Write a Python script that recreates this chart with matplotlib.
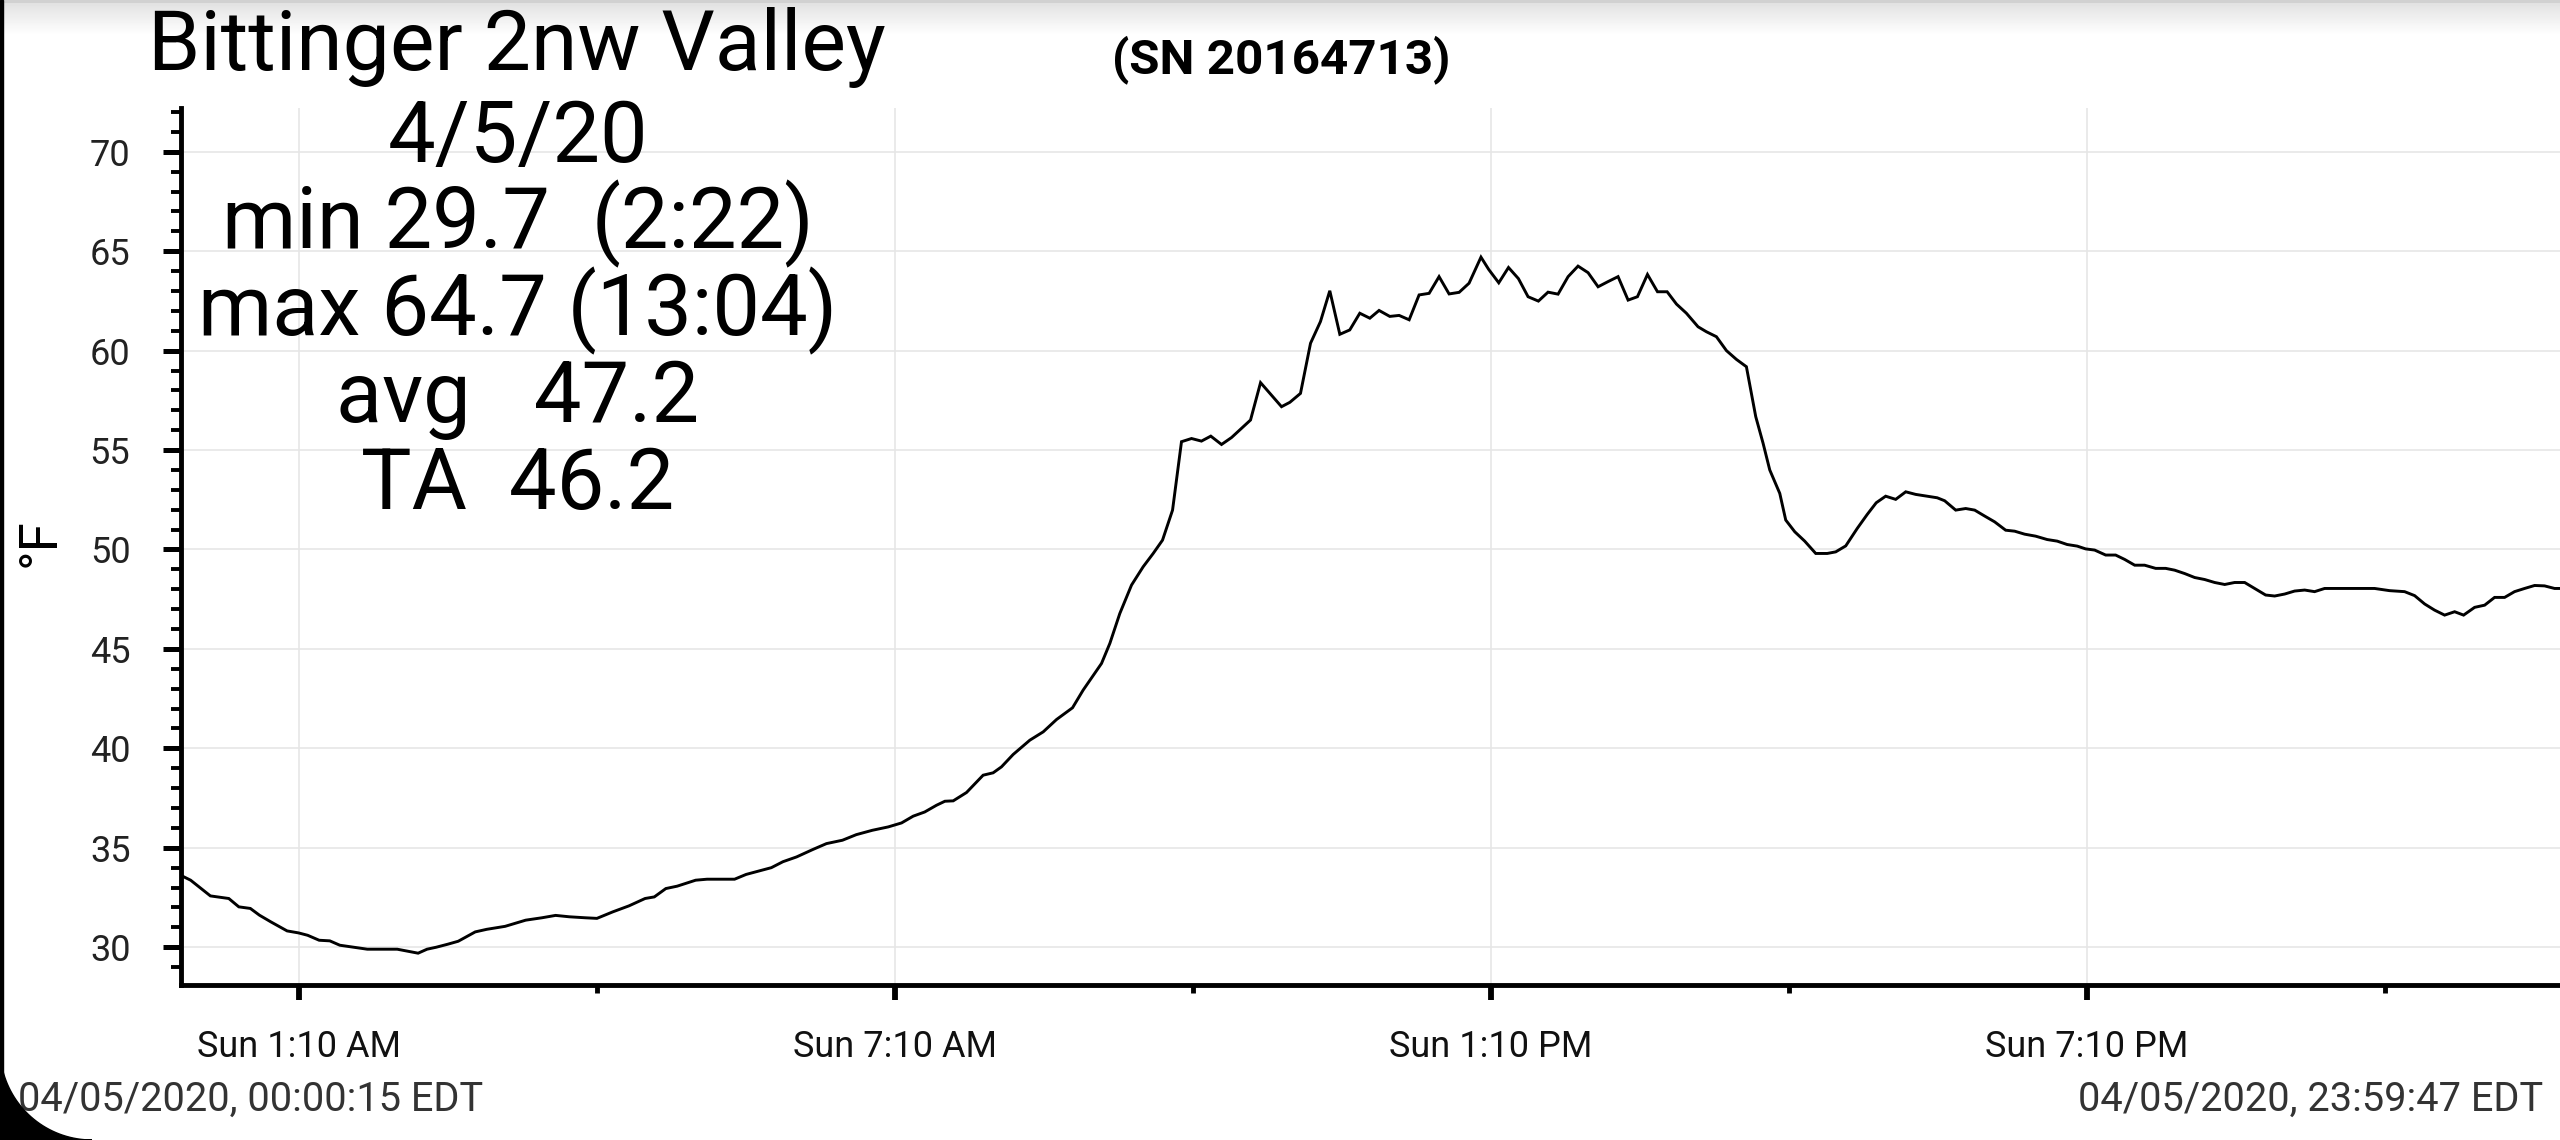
import numpy as np
import matplotlib
matplotlib.use("Agg")
import matplotlib.pyplot as plt
from matplotlib.ticker import FixedLocator, MultipleLocator
from matplotlib.patches import Rectangle, Polygon
from matplotlib.transforms import Affine2D

plt.rcParams['font.family'] = ['Roboto', 'DejaVu Sans']

# time of day in hours, temperature in °F
hours = [
    0.004, 0.077, 0.276, 0.461, 0.562, 0.678, 0.77, 0.886, 1.048, 1.163,
    1.255, 1.371, 1.478, 1.579, 1.718, 1.856, 2.157, 2.367, 2.457, 2.55,
    2.665, 2.771, 2.942, 3.058, 3.243, 3.45, 3.613, 3.751, 3.889, 4.051,
    4.167, 4.328, 4.49, 4.652, 4.745, 4.861, 4.975, 5.161, 5.276, 5.553,
    5.669, 5.923, 6.04, 6.177, 6.339, 6.478, 6.639, 6.778, 6.94, 7.10,
    7.234, 7.351, 7.467, 7.586, 7.67, 7.754, 7.888, 8.055, 8.156, 8.24,
    8.357, 8.525, 8.66, 8.794, 8.955, 9.062, 9.247, 9.331, 9.431, 9.549,
    9.666, 9.767, 9.861, 9.962, 10.052, 10.153, 10.253, 10.347, 10.455, 10.556,
    10.656, 10.747, 10.848, 11.059, 11.143, 11.25, 11.351, 11.451, 11.545, 11.646,
    11.746, 11.847, 11.948, 12.041, 12.149, 12.243, 12.344, 12.444, 12.545, 12.645,
    12.746, 12.847, 12.947, 13.067, 13.145, 13.246, 13.344, 13.444, 13.541, 13.645,
    13.742, 13.843, 13.944, 14.044, 14.145, 14.246, 14.346, 14.447, 14.548, 14.642,
    14.743, 14.844, 14.941, 15.035, 15.135, 15.252, 15.336, 15.437, 15.538, 15.638,
    15.739, 15.833, 15.907, 15.974, 16.075, 16.135, 16.226, 16.326, 16.437, 16.553,
    16.638, 16.739, 16.855, 16.955, 17.046, 17.141, 17.242, 17.343, 17.443, 17.559,
    17.66, 17.735, 17.846, 17.947, 18.037, 18.138, 18.238, 18.349, 18.44, 18.54,
    18.651, 18.767, 18.868, 18.968, 19.069, 19.154, 19.245, 19.356, 19.456, 19.547,
    19.648, 19.748, 19.859, 19.96, 20.05, 20.151, 20.252, 20.352, 20.453, 20.554,
    20.654, 20.755, 20.856, 20.966, 21.057, 21.158, 21.258, 21.359, 21.459, 21.56,
    22.063, 22.214, 22.365, 22.466, 22.567, 22.667, 22.768, 22.869, 22.959, 23.07,
    23.171, 23.271, 23.372, 23.472, 23.573, 23.674, 23.774, 23.875, 23.994,
]
temps = [
    33.55, 33.37, 32.58, 32.45, 32.03, 31.95, 31.61, 31.27, 30.82, 30.72,
    30.60, 30.35, 30.32, 30.10, 30.0, 29.9, 29.9, 29.7, 29.9, 30.0,
    30.15, 30.3, 30.77, 30.9, 31.05, 31.36, 31.48, 31.6, 31.53, 31.48,
    31.45, 31.78, 32.08, 32.45, 32.53, 32.95, 33.07, 33.37, 33.42, 33.42,
    33.66, 34.0, 34.3, 34.54, 34.91, 35.21, 35.38, 35.66, 35.88, 36.05,
    36.25, 36.59, 36.80, 37.14, 37.34, 37.36, 37.78, 38.65, 38.77, 39.07,
    39.69, 40.41, 40.83, 41.45, 42.04, 42.93, 44.27, 45.28, 46.78, 48.21,
    49.13, 49.80, 50.47, 51.98, 55.42, 55.58, 55.45, 55.70, 55.28, 55.63,
    56.09, 56.51, 58.39, 57.18, 57.40, 57.85, 60.37, 61.46, 63.01, 60.82,
    61.04, 61.88, 61.63, 62.02, 61.72, 61.77, 61.55, 62.80, 62.88, 63.72,
    62.85, 62.93, 63.39, 64.7, 64.08, 63.41, 64.18, 63.62, 62.71, 62.49,
    62.94, 62.84, 63.72, 64.25, 63.92, 63.21, 63.47, 63.72, 62.54, 62.71,
    63.83, 62.96, 62.96, 62.34, 61.88, 61.20, 60.95, 60.70, 60.00, 59.56,
    59.19, 56.68, 55.34, 54.00, 52.82, 51.48, 50.89, 50.42, 49.80, 49.80,
    49.88, 50.18, 51.06, 51.76, 52.35, 52.68, 52.52, 52.90, 52.77, 52.68,
    52.60, 52.45, 51.98, 52.06, 51.98, 51.68, 51.39, 50.97, 50.92, 50.77,
    50.67, 50.50, 50.42, 50.25, 50.17, 50.03, 49.97, 49.72, 49.72, 49.50,
    49.21, 49.21, 49.05, 49.05, 48.96, 48.79, 48.59, 48.49, 48.34, 48.24,
    48.34, 48.34, 48.04, 47.71, 47.66, 47.76, 47.91, 47.96, 47.88, 48.04,
    48.04, 47.93, 47.88, 47.68, 47.26, 46.95, 46.70, 46.87, 46.70, 47.09,
    47.20, 47.59, 47.59, 47.88, 48.04, 48.19, 48.17, 48.04, 48.04,
]

major_hours = [1 + 10 / 60, 7 + 10 / 60, 13 + 10 / 60, 19 + 10 / 60]
major_labels = ['Sun 1:10 AM', 'Sun 7:10 AM', 'Sun 1:10 PM', 'Sun 7:10 PM']
minor_hours = [4 + 10 / 60, 10 + 10 / 60, 16 + 10 / 60, 22 + 10 / 60]

title = 'Bittinger 2nw Valley'
serial = '(SN 20164713)'
stats_lines = ['4/5/20', 'min 29.7  (2:22)', 'max 64.7 (13:04)', 'avg   47.2', 'TA  46.2']
start_stamp = '04/05/2020, 00:00:15 EDT'
end_stamp = '04/05/2020, 23:59:47 EDT'

W, H = 2560, 1140
fig = plt.figure(figsize=(W / 100, H / 100), dpi=100)
fig.patch.set_facecolor('white')

# axes placement in pixels
left_px, right_px, bottom_px, top_px = 180.5, 2567.0, 985.0, 108.0
ax = fig.add_axes([left_px / W, 1 - bottom_px / H,
                   (right_px - left_px) / W, (bottom_px - top_px) / H])
ax.plot(hours, temps, color='black', lw=2.1, solid_joinstyle='miter', zorder=3)
ax.set_xlim(-0.025, 24.0)
ax.set_ylim(28.1, 72.2)

ax.xaxis.set_major_locator(FixedLocator(major_hours))
ax.xaxis.set_minor_locator(FixedLocator(minor_hours))
ax.set_xticklabels(major_labels)
ax.yaxis.set_major_locator(MultipleLocator(5))
ax.yaxis.set_minor_locator(MultipleLocator(1))

ax.grid(True, which='major', color='#e6e6e6', lw=1.2, zorder=0)
ax.set_axisbelow(True)
for s in ['top', 'right']:
    ax.spines[s].set_visible(False)
for s in ['left', 'bottom']:
    ax.spines[s].set_linewidth(3.5)

ax.tick_params(axis='y', which='major', length=13, width=3.6, pad=23,
               labelsize=26, labelcolor='#222222')
ax.tick_params(axis='y', which='minor', length=7, width=2.8)
ax.tick_params(axis='x', which='major', length=11, width=4.2, pad=21,
               labelsize=26, labelcolor='#111111')
ax.tick_params(axis='x', which='minor', length=5.5, width=3.5)

fig.text(40 / W, 1 - 543 / H, '°F', rotation=90, ha='center', va='center', fontsize=38)

# header texts
fig.text(148 / W, 1 - 70 / H, title, ha='left', va='baseline', fontsize=60.5)
fig.text(1281 / W, 1 - 73 / H, serial, ha='center', va='baseline',
         fontsize=35.6, fontweight='bold')
baselines = [162, 248, 335, 422, 509]
for line, b in zip(stats_lines, baselines):
    fig.text(518 / W, 1 - b / H, line, ha='center', va='baseline', fontsize=61)

fig.text(18 / W, 1 - 1111 / H, start_stamp, ha='left', va='baseline',
         fontsize=28.6, color='#333333')
fig.text(2543 / W, 1 - 1111 / H, end_stamp, ha='right', va='baseline',
         fontsize=28.6, color='#333333')

# screenshot frame: shaded top strip, black left edge, rounded bottom-left corner
gax = fig.add_axes([0, 1 - 36 / H, 1, 36 / H], zorder=-5)
grad = np.linspace(0.80, 1.0, 36) ** 0.6
grad[:3] = 0.82
gax.imshow(np.repeat(grad[:, None], 8, axis=1), cmap='gray', vmin=0, vmax=1,
           aspect='auto', extent=[0, 1, 0, 1])
gax.axis('off')

px = Affine2D().scale(1 / W, 1 / H) + fig.transFigure
fig.add_artist(Rectangle((0, 0), 3, H, transform=px, color='black', zorder=10))
r = 92
t = np.linspace(np.pi, 1.5 * np.pi, 40)
corner = np.column_stack([r + r * np.cos(t), r + r * np.sin(t)])
corner = np.vstack([corner, [[0, 0]]])
fig.add_artist(Polygon(corner, closed=True, transform=px, color='black', zorder=10))

fig.savefig('out.png', dpi=100, facecolor='white')
